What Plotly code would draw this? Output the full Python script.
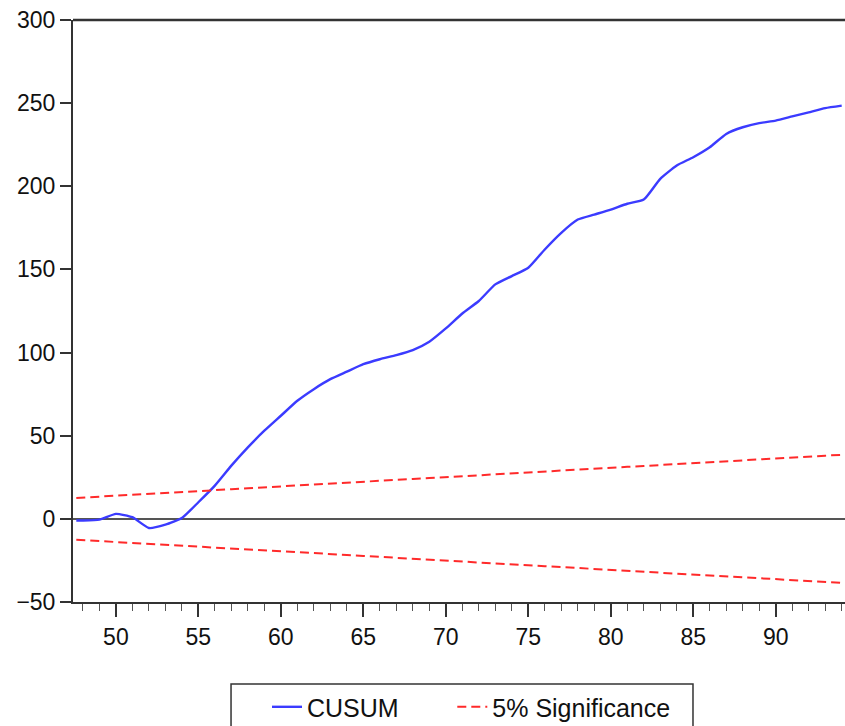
import plotly.graph_objects as go

obs = [47.6] + list(range(48, 95))
cusum = [-1, -1, -0.5, 3, 1, -5.5, -3.5, 0.5, 10, 20, 32, 43, 53, 62, 71, 78, 84, 88.5,
         93, 96, 98.5, 101.5, 106.5, 114.5, 123.5, 131, 141, 146, 151, 162, 172, 180,
         183, 186, 189.5, 192, 204.5, 212.5, 217.5, 223.5, 231.5, 235.5, 238, 239.5,
         242, 244.5, 247, 248.5]
upper = [12.6, 12.8, 13.4, 13.9, 14.5, 15.0, 15.6, 16.2, 16.7, 17.3, 17.8, 18.4, 19.0, 19.5,
         20.1, 20.6, 21.2, 21.7, 22.3, 22.9, 23.4, 24.0, 24.5, 25.1, 25.7, 26.2, 26.8,
         27.3, 27.9, 28.5, 29.0, 29.6, 30.1, 30.7, 31.3, 31.8, 32.4, 32.9, 33.5, 34.1,
         34.6, 35.2, 35.7, 36.3, 36.9, 37.4, 38.0, 38.5]
lower = [-v for v in upper]

y_ticks = [-50, 0, 50, 100, 150, 200, 250, 300]
x_ticks = [50, 55, 60, 65, 70, 75, 80, 85, 90]
names = ["CUSUM" + "\u00a0" * 7, "5% Significance"]

blue = "#3B3BFF"
red = "#FF2A2A"

fig = go.Figure()
fig.add_trace(go.Scatter(x=obs, y=cusum, mode="lines", name=names[0],
                         line=dict(color=blue, width=2.4, shape="spline", smoothing=0.5)))
fig.add_trace(go.Scatter(x=obs, y=upper, mode="lines", name=names[1],
                         line=dict(color=red, width=2, dash="9px,5px"), legendgroup="sig"))
fig.add_trace(go.Scatter(x=obs, y=lower, mode="lines", name=names[1],
                         line=dict(color=red, width=2, dash="9px,5px"), legendgroup="sig",
                         showlegend=False))

fig.update_layout(
    width=845, height=726,
    margin=dict(l=73, r=0, t=20, b=124, autoexpand=False),
    paper_bgcolor="white", plot_bgcolor="white",
    font=dict(family="Liberation Sans, Arial, sans-serif", size=23, color="#111111"),
    showlegend=True,
    legend=dict(orientation="h", x=0.2513, xanchor="left", y=-0.141, yanchor="top",
                borderwidth=0, bgcolor="rgba(0,0,0,0)",
                font=dict(size=25), tracegroupgap=0),
)
fig.update_xaxes(
    range=[47.4, 94.2], tickvals=x_ticks, ticks="outside", ticklen=13, tickwidth=1.5,
    tickcolor="#333333", showline=True, linecolor="#333333", linewidth=2,
    showgrid=False, zeroline=False, mirror=False,
    minor=dict(dtick=1, tick0=0, ticks="outside", ticklen=7, tickwidth=1.2, tickcolor="#555555"),
)
fig.update_yaxes(
    range=[-50, 300], tickvals=y_ticks, ticks="outside", ticklen=11, tickwidth=1.5,
    tickcolor="#333333", showline=True, linecolor="#333333", linewidth=2,
    showgrid=False, zeroline=True, zerolinecolor="#555555", zerolinewidth=1.5,
)
fig.add_shape(type="line", xref="paper", yref="paper", x0=0, x1=1, y0=1, y1=1,
              line=dict(color="#333333", width=2.5))
# legend frame
fig.add_shape(type="rect", xref="paper", yref="paper", x0=0.2047, x1=0.8031,
              y0=-0.3, y1=-0.1409, line=dict(color="#333333", width=1.5),
              fillcolor="rgba(0,0,0,0)")

fig.write_html("out.html")
